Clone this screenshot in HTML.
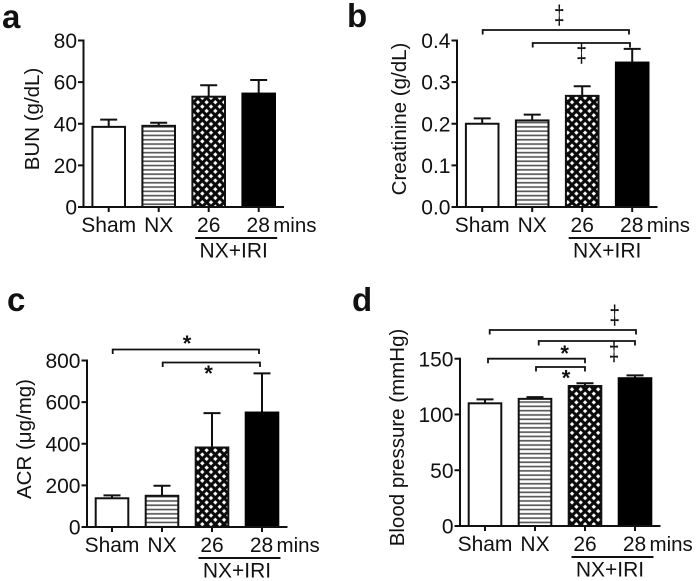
<!DOCTYPE html>
<html lang="en">
<head>
<meta charset="utf-8">
<title>Renal function bar charts</title>
<style>
html,body{margin:0;padding:0;background:#fff;width:697px;height:581px;overflow:hidden}
svg{display:block;filter:blur(0.35px)}
text{font-family:"Liberation Sans",Arial,sans-serif;fill:#111}
</style>
</head>
<body>
<svg id="figure" xmlns="http://www.w3.org/2000/svg" width="697" height="581" viewBox="0 0 697 581">
  <defs>
    <pattern id="hatch-lines" patternUnits="userSpaceOnUse" width="8" height="4.3">
      <rect width="8" height="4.3" fill="#fff"/>
      <rect y="1.3" width="8" height="1.7" fill="#5a5a5a"/>
    </pattern>
    <pattern id="hatch-cross" patternUnits="userSpaceOnUse" width="8.7" height="8.7">
      <rect width="8.7" height="8.7" fill="#0a0a0a"/>
      <polygon points="2.2,0 4.4,2.2 2.2,4.4 0,2.2" fill="#fff"/>
      <polygon points="6.55,4.35 8.7,6.55 6.55,8.7 4.35,6.55" fill="#fff"/>
    </pattern>
  </defs>
</svg>
<script>
const categories = ['Sham', 'NX', '26', '28'];

const bunValues = [38.5, 39, 53, 54.5];
const bunErrorTops = [42, 40.5, 58.5, 61];
const bunTicks = ['0', '20', '40', '60', '80'];

const creatinineValues = [0.2, 0.208, 0.267, 0.347];
const creatinineErrorTops = [0.213, 0.222, 0.29, 0.38];
const creatinineTicks = ['0.0', '0.1', '0.2', '0.3', '0.4'];

const acrValues = [138, 150, 382, 550];
const acrErrorTops = [152, 198, 547, 738];
const acrTicks = ['0', '200', '400', '600', '800'];

const pressureValues = [110, 114, 125.5, 132.5];
const pressureErrorTops = [113.5, 115.5, 128, 135];
const pressureTicks = ['0', '50', '100', '150'];

const svg = document.getElementById('figure');
const NS = 'http://www.w3.org/2000/svg';
const INK = '#111';
const BAR_FILLS = ['#fff', 'url(#hatch-lines)', 'url(#hatch-cross)', '#000'];

function shape(tag, props, text) {
  const el = document.createElementNS(NS, tag);
  for (const k in props) el.setAttribute(k, props[k]);
  if (text !== undefined) el.textContent = text;
  svg.appendChild(el);
  return el;
}

function line(x1, y1, x2, y2, w) {
  return shape('line', {x1, y1, x2, y2, stroke: INK, 'stroke-width': w || 2});
}

function drawPanel(p) {
  const yOf = v => p.bottom - (v / p.max) * (p.bottom - p.top);
  const xOf = i => p.firstCenter + i * 50;

  const letter = shape('text', {x: p.letterX, y: p.letterY, 'font-size': 33, 'font-weight': 'bold', fill: '#000'}, p.letter);
  
  

  const title = shape('text', {
    x: p.titleX, y: p.titleY, 'font-size': 20.5, 'text-anchor': 'middle',
    transform: 'rotate(-90 ' + p.titleX + ' ' + p.titleY + ')'
  }, p.title);
  
  

  p.values.forEach((v, i) => {
    const cx = xOf(i);
    const stem = line(cx, yOf(p.errorTops[i]), cx, yOf(v));
    
    
    const cap = line(cx - 8.5, yOf(p.errorTops[i]), cx + 8.5, yOf(p.errorTops[i]));
    
    
    const bar = shape('rect', {
      x: cx - 16.3, y: yOf(v), width: 32.6, height: p.bottom - yOf(v),
      fill: BAR_FILLS[i], stroke: i === 3 ? '#000' : INK, 'stroke-width': 2
    });
    
    
    const tick = line(cx, p.bottom, cx, p.bottom + 5);
    
    
    const label = shape('text', {
      x: cx + (i === 3 ? -0.5 : 0), y: p.bottom + 25, 'font-size': 21, 'text-anchor': 'middle'
    }, categories[i]);
    
    
  });

  const yAxis = line(p.axisX, p.top - 1, p.axisX, p.bottom + 1);
  
  
  const xAxis = line(p.axisX - 5.5, p.bottom, p.axisX + 200.5, p.bottom);
  
  

  p.ticks.forEach(t => {
    const y = yOf(parseFloat(t));
    const mark = line(p.axisX - 5.5, y, p.axisX, y);
    
    
    const label = shape('text', {x: p.axisX - 6.5, y: y + 7.6, 'font-size': 21, 'text-anchor': 'end'}, t);
    
    
  });

  const mins = shape('text', {x: xOf(3) + 14.5, y: p.bottom + 25, 'font-size': 20.5}, 'mins');
  
  
  const under = line(xOf(2) - 13.5, p.bottom + 31, xOf(3) + 18.5, p.bottom + 31);
  
  
  const group = shape('text', {x: xOf(2) + 25, y: p.bottom + 50.5, 'font-size': 21, 'text-anchor': 'middle'}, 'NX+IRI');
  
  

  p.brackets.forEach((b, n) => {
    const path = shape('path', {
      d: 'M' + b[0] + ' ' + (b[2] + 4.5) + 'V' + b[2] + 'H' + b[1] + 'V' + (b[2] + 4.5),
      fill: 'none', stroke: INK, 'stroke-width': 1.8
    });
    
    
  });

  p.marks.forEach((m, n) => {
    const isStar = m[0] === '*';
    const props = {
      'font-size': isStar ? 22 : 19,
      'text-anchor': 'middle', 'font-weight': isStar ? 'bold' : 'normal'
    };
    if (isStar) {
      props.x = m[1];
      props.y = m[2] + 10;
    } else {
      props.x = 0;
      props.y = 0;
      props.transform = 'translate(' + m[1] + ' ' + (m[2] + 8) + ') scale(1 1.4)';
    }
    const mark = shape('text', props, m[0]);
    
    
  });
}

drawPanel({
  letter: 'a', letterX: 2, letterY: 28, title: 'BUN (g/dL)', titleX: 39, titleY: 119,
  axisX: 83.5, top: 40.5, bottom: 207, max: 80, firstCenter: 108.7,
  values: bunValues, errorTops: bunErrorTops, ticks: bunTicks, brackets: [], marks: []
});
drawPanel({
  letter: 'b', letterX: 347, letterY: 27, title: 'Creatinine (g/dL)', titleX: 406, titleY: 119,
  axisX: 457, top: 40.5, bottom: 207, max: 0.4, firstCenter: 482.2,
  values: creatinineValues, errorTops: creatinineErrorTops, ticks: creatinineTicks,
  brackets: [[482.7, 629, 30], [532.7, 630, 43]],
  marks: [['\u2021', 559.3, 16], ['\u2021', 581.5, 54]]
});
drawPanel({
  letter: 'c', letterX: 7, letterY: 311, title: 'ACR (\u03bcg/mg)', titleX: 31, titleY: 439,
  axisX: 87, top: 360.5, bottom: 527, max: 800, firstCenter: 112,
  values: acrValues, errorTops: acrErrorTops, ticks: acrTicks,
  brackets: [[112.7, 259, 349.5], [162.7, 260, 362.5]],
  marks: [['*', 187, 341], ['*', 208.5, 371]]
});
drawPanel({
  letter: 'd', letterX: 352, letterY: 311, title: 'Blood pressure (mmHg)', titleX: 404, titleY: 437.5,
  axisX: 460, top: 358.7, bottom: 526, max: 150, firstCenter: 485,
  values: pressureValues, errorTops: pressureErrorTops, ticks: pressureTicks,
  brackets: [[489.7, 636, 330], [538.7, 635, 341], [488, 585, 358.7], [536, 585, 367]],
  marks: [['\u2021', 614.7, 316], ['\u2021', 614, 352.7], ['*', 564.7, 351], ['*', 566, 375.7]]
});
</script>
</body>
</html>
